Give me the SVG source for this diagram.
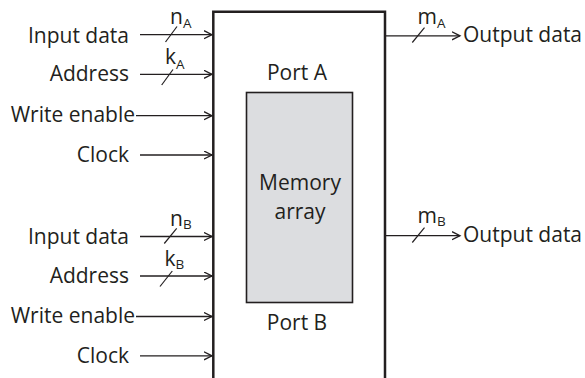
<svg xmlns="http://www.w3.org/2000/svg" width="585" height="378" viewBox="0 0 585 378">
<style>
text{font-family:"Open Sans","Noto Sans","Liberation Sans",sans-serif;fill:#231f20}
.lbl{font-size:21px}
.end{text-anchor:end}
.mid{text-anchor:middle}
.sub{font-size:13.5px}
.wire{stroke:#231f20;stroke-width:1.3;fill:none}
.slash{stroke:#231f20;stroke-width:1.2;fill:none}
</style>
<defs>
<marker id="arr" markerUnits="userSpaceOnUse" markerWidth="10" markerHeight="10" refX="8.5" refY="4.5" orient="auto">
<path d="M0.5,0.5 L8.5,4.5 L0.5,8.5" fill="none" stroke="#231f20" stroke-width="1.3"/>
</marker>
</defs>
<g id="memory-block">
<path d="M213.3,380 V11.7 H385 V380" fill="none" stroke="#231f20" stroke-width="2.5"/>
<text class="lbl mid" x="297" y="80">Port A</text>
<text class="lbl mid" x="297" y="330">Port B</text>
</g>
<g id="memory-array">
<rect x="246.5" y="92.5" width="106" height="210" fill="#dcdde0" stroke="#231f20" stroke-width="1.6"/>
<text class="lbl mid" x="300" y="190">Memory</text>
<text class="lbl mid" x="300" y="219">array</text>
</g>
<g id="labels">
<text class="lbl end" x="129" y="42.5">Input data</text>
<text class="lbl end" x="129" y="81">Address</text>
<text class="lbl end" x="135" y="122">Write enable</text>
<text class="lbl end" x="129" y="161.5">Clock</text>
<text class="lbl end" x="129" y="244">Input data</text>
<text class="lbl end" x="129" y="282.5">Address</text>
<text class="lbl end" x="135" y="323">Write enable</text>
<text class="lbl end" x="129" y="362.5">Clock</text>
<text class="lbl" x="463" y="41.5">Output data</text>
<text class="lbl" x="463" y="241.5">Output data</text>
<text class="lbl" x="170" y="23.5">n<tspan class="sub" dy="4">A</tspan></text>
<text class="lbl" x="165" y="64">k<tspan class="sub" dy="5">A</tspan></text>
<text class="lbl" x="170" y="226">n<tspan class="sub" dy="3">B</tspan></text>
<text class="lbl" x="164.5" y="266">k<tspan class="sub" dy="3">B</tspan></text>
<text class="lbl" x="417.5" y="23.5">m<tspan class="sub" dy="4">A</tspan></text>
<text class="lbl" x="417.5" y="223">m<tspan class="sub" dy="3">B</tspan></text>
</g>
<g id="connectors">
<path class="wire" marker-end="url(#arr)" d="M140,34.7 H212"/>
<path class="wire" marker-end="url(#arr)" d="M140,74.3 H212"/>
<path class="wire" marker-end="url(#arr)" d="M136,115.7 H212"/>
<path class="wire" marker-end="url(#arr)" d="M140,155 H212"/>
<path class="wire" marker-end="url(#arr)" d="M140,236.5 H212"/>
<path class="wire" marker-end="url(#arr)" d="M140,276 H212"/>
<path class="wire" marker-end="url(#arr)" d="M136,316.5 H212"/>
<path class="wire" marker-end="url(#arr)" d="M140,355.8 H212"/>
<path class="wire" marker-end="url(#arr)" d="M386,35.8 H460"/>
<path class="wire" marker-end="url(#arr)" d="M386,235.7 H460"/>
<path class="slash" d="M165.5,42 L177,26.5"/>
<path class="slash" d="M161.7,85 L173,69.5"/>
<path class="slash" d="M164.3,243.5 L176.7,228.3"/>
<path class="slash" d="M160,286.5 L172.3,271"/>
<path class="slash" d="M412.3,42.5 L424.5,27.7"/>
<path class="slash" d="M412.3,242.5 L424.5,227.7"/>
</g>
</svg>
